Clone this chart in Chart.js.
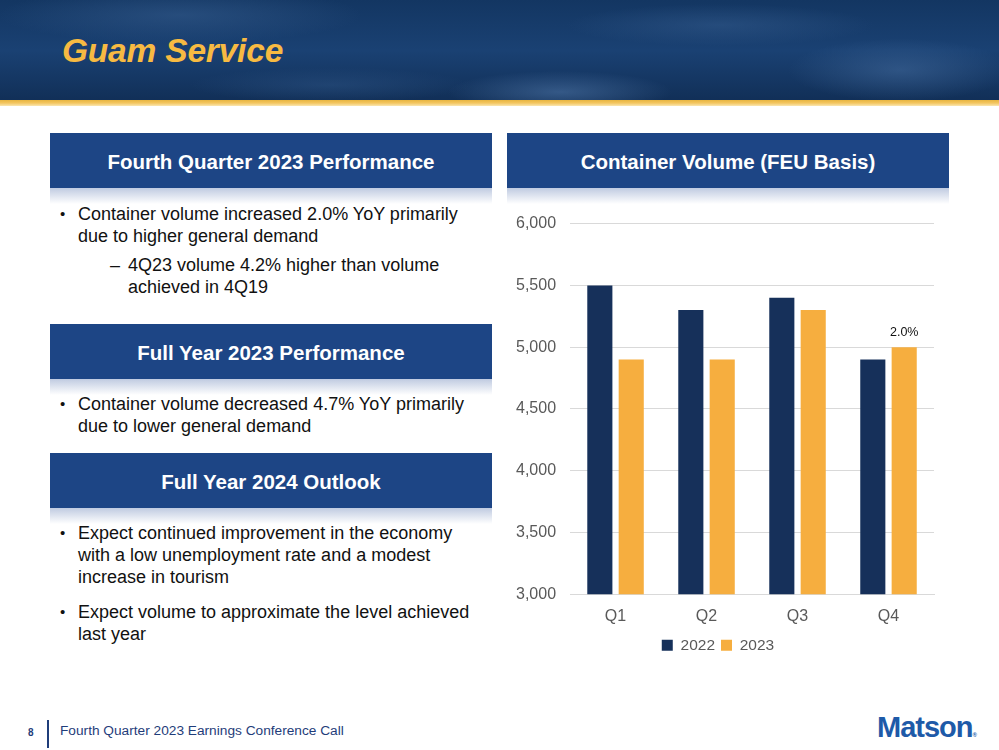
<!DOCTYPE html>
<html>
<head>
<meta charset="utf-8">
<script src="https://cdn.jsdelivr.net/npm/chart.js@4.4.1/dist/chart.umd.min.js"></script>
<style>
  html, body { margin:0; padding:0; background:#fff; }
  body { width:999px; height:750px; position:relative; overflow:hidden; font-family:"Liberation Sans", Arial, sans-serif; }
  #banner { position:absolute; left:0; top:0; width:999px; height:101px;
    background:
      radial-gradient(ellipse 160px 30px at 560px 92px, rgba(80,120,170,0.55), rgba(0,0,0,0) 70%),
      radial-gradient(ellipse 160px 45px at 900px 70px, rgba(70,110,160,0.5), rgba(0,0,0,0) 70%),
      radial-gradient(ellipse 260px 40px at 180px 15px, rgba(60,100,150,0.45), rgba(0,0,0,0) 70%),
      radial-gradient(ellipse 220px 30px at 720px 25px, rgba(55,95,145,0.45), rgba(0,0,0,0) 70%),
      radial-gradient(ellipse 200px 25px at 330px 85px, rgba(50,90,140,0.4), rgba(0,0,0,0) 70%),
      linear-gradient(180deg, #133662 0%, #1a4173 50%, #112f57 100%);
  }
  #goldline { position:absolute; left:0; top:100px; width:999px; height:6px;
    background:linear-gradient(180deg, #e8b540 0%, #f3c560 50%, #fae6b0 100%); }
  #title { position:absolute; left:62px; top:32px; color:#f7ba42; font-size:33.5px; font-weight:bold; font-style:italic; letter-spacing:-0.2px; }
  .hdr { position:absolute; background:#1d4585; color:#fff; font-weight:bold; font-size:20.5px; text-align:center; height:55px; line-height:57px; }
  .hdr::after { content:""; position:absolute; left:0; right:0; top:55px; height:16px;
    background:linear-gradient(180deg, rgba(140,160,200,0.55), rgba(255,255,255,0)); }
  .txt { position:absolute; font-size:18px; line-height:22px; color:#111; }
  .b { position:relative; padding-left:28px; white-space:nowrap; }
  .b::before { content:"\2022"; position:absolute; left:10px; top:0; font-size:15px; }
  .s { position:relative; padding-left:78px; white-space:nowrap; }
  .s::before { content:"\2013"; position:absolute; left:60px; top:0; }
  #chartwrap { position:absolute; left:502px; top:200px; width:448px; height:466px; }
  #pg { position:absolute; left:28px; top:727px; font-size:10px; font-weight:bold; color:#1f3d7a; }
  #vline { position:absolute; left:47px; top:720px; width:1.5px; height:28px; background:#1f3d7a; }
  #foot { position:absolute; left:60px; top:723px; font-size:13.7px; color:#1f3d7a; }
  #logo { position:absolute; left:877px; top:711px; font-size:29px; font-weight:bold; color:#1e5aa8; letter-spacing:-1px; }
  #logo span { font-size:6px; letter-spacing:0; }
</style>
</head>
<body>
<div id="banner"></div>
<div id="goldline"></div>
<div id="title">Guam Service</div>

<div class="hdr" style="left:50px; top:133px; width:442px;">Fourth Quarter 2023 Performance</div>
<div class="hdr" style="left:507px; top:133px; width:442px;">Container Volume (FEU Basis)</div>
<div class="hdr" style="left:50px; top:324px; width:442px;">Full Year 2023 Performance</div>
<div class="hdr" style="left:50px; top:453px; width:442px;">Full Year 2024 Outlook</div>

<div class="txt" style="left:50px; top:203px; width:440px;">
  <div class="b">Container volume increased 2.0% YoY primarily<br>due to higher general demand</div>
  <div class="s" style="margin-top:7px;">4Q23 volume 4.2% higher than volume<br>achieved in 4Q19</div>
</div>
<div class="txt" style="left:50px; top:393px; width:440px;">
  <div class="b">Container volume decreased 4.7% YoY primarily<br>due to lower general demand</div>
</div>
<div class="txt" style="left:50px; top:522px; width:440px;">
  <div class="b">Expect continued improvement in the economy<br>with a low unemployment rate and a modest<br>increase in tourism</div>
  <div class="b" style="margin-top:13px;">Expect volume to approximate the level achieved<br>last year</div>
</div>

<div id="chartwrap"><canvas id="c"></canvas></div>

<div id="pg">8</div>
<div id="vline"></div>
<div id="foot">Fourth Quarter 2023 Earnings Conference Call</div>
<div id="logo">Matson<span>®</span></div>

<script>
const categories = ["Q1", "Q2", "Q3", "Q4"];
const series2022 = [5500, 5300, 5400, 4900];
const series2023 = [4900, 4900, 5300, 5000];
const seriesNames = ["2022", "2023"];
const yTicks = [3000, 3500, 4000, 4500, 5000, 5500, 6000];
const annotations = [null, null, null, "2.0%"]; // labels over 2023 bars

const FONT = "'Liberation Sans', Arial, sans-serif";

const labelPlugin = {
  id: "barLabels",
  afterDatasetsDraw(chart) {
    const ctx = chart.ctx;
    const meta = chart.getDatasetMeta(1);
    ctx.save();
    ctx.font = "12.5px " + FONT;
    ctx.fillStyle = "#111";
    ctx.textAlign = "center";
    ctx.textBaseline = "bottom";
    meta.data.forEach((bar, i) => {
      if (annotations[i]) ctx.fillText(annotations[i], bar.x, bar.y - 8);
    });
    ctx.restore();
  }
};

new Chart(document.getElementById("c"), {
  type: "bar",
  data: {
    labels: categories,
    datasets: [
      { label: seriesNames[0], data: series2022, backgroundColor: "#16305a", barPercentage: 0.8, categoryPercentage: 0.69 },
      { label: seriesNames[1], data: series2023, backgroundColor: "#f6ae3f", barPercentage: 0.8, categoryPercentage: 0.69 }
    ]
  },
  options: {
    responsive: true,
    maintainAspectRatio: false,
    animation: false,
    layout: { padding: { left: 0, right: 16, top: 11, bottom: 3 } },
    plugins: {
      legend: {
        position: "bottom",
        labels: { boxWidth: 11, boxHeight: 11, padding: 6, color: "#595959", font: { size: 15.5, family: FONT } }
      },
      tooltip: { enabled: false }
    },
    scales: {
      x: {
        grid: { display: false },
        border: { color: "#d9d9d9" },
        ticks: { color: "#595959", font: { size: 16, family: FONT }, padding: 5 }
      },
      y: {
        min: yTicks[0], max: yTicks[yTicks.length - 1],
        afterBuildTicks(axis) { axis.ticks = yTicks.map(v => ({ value: v })); },
        grid: { color: "#d9d9d9", drawTicks: false },
        border: { display: false },
        ticks: { color: "#595959", font: { size: 16, family: FONT }, padding: 14,
          callback: v => v.toLocaleString("en-US") }
      }
    }
  },
  plugins: [labelPlugin]
});
</script>
</body>
</html>
